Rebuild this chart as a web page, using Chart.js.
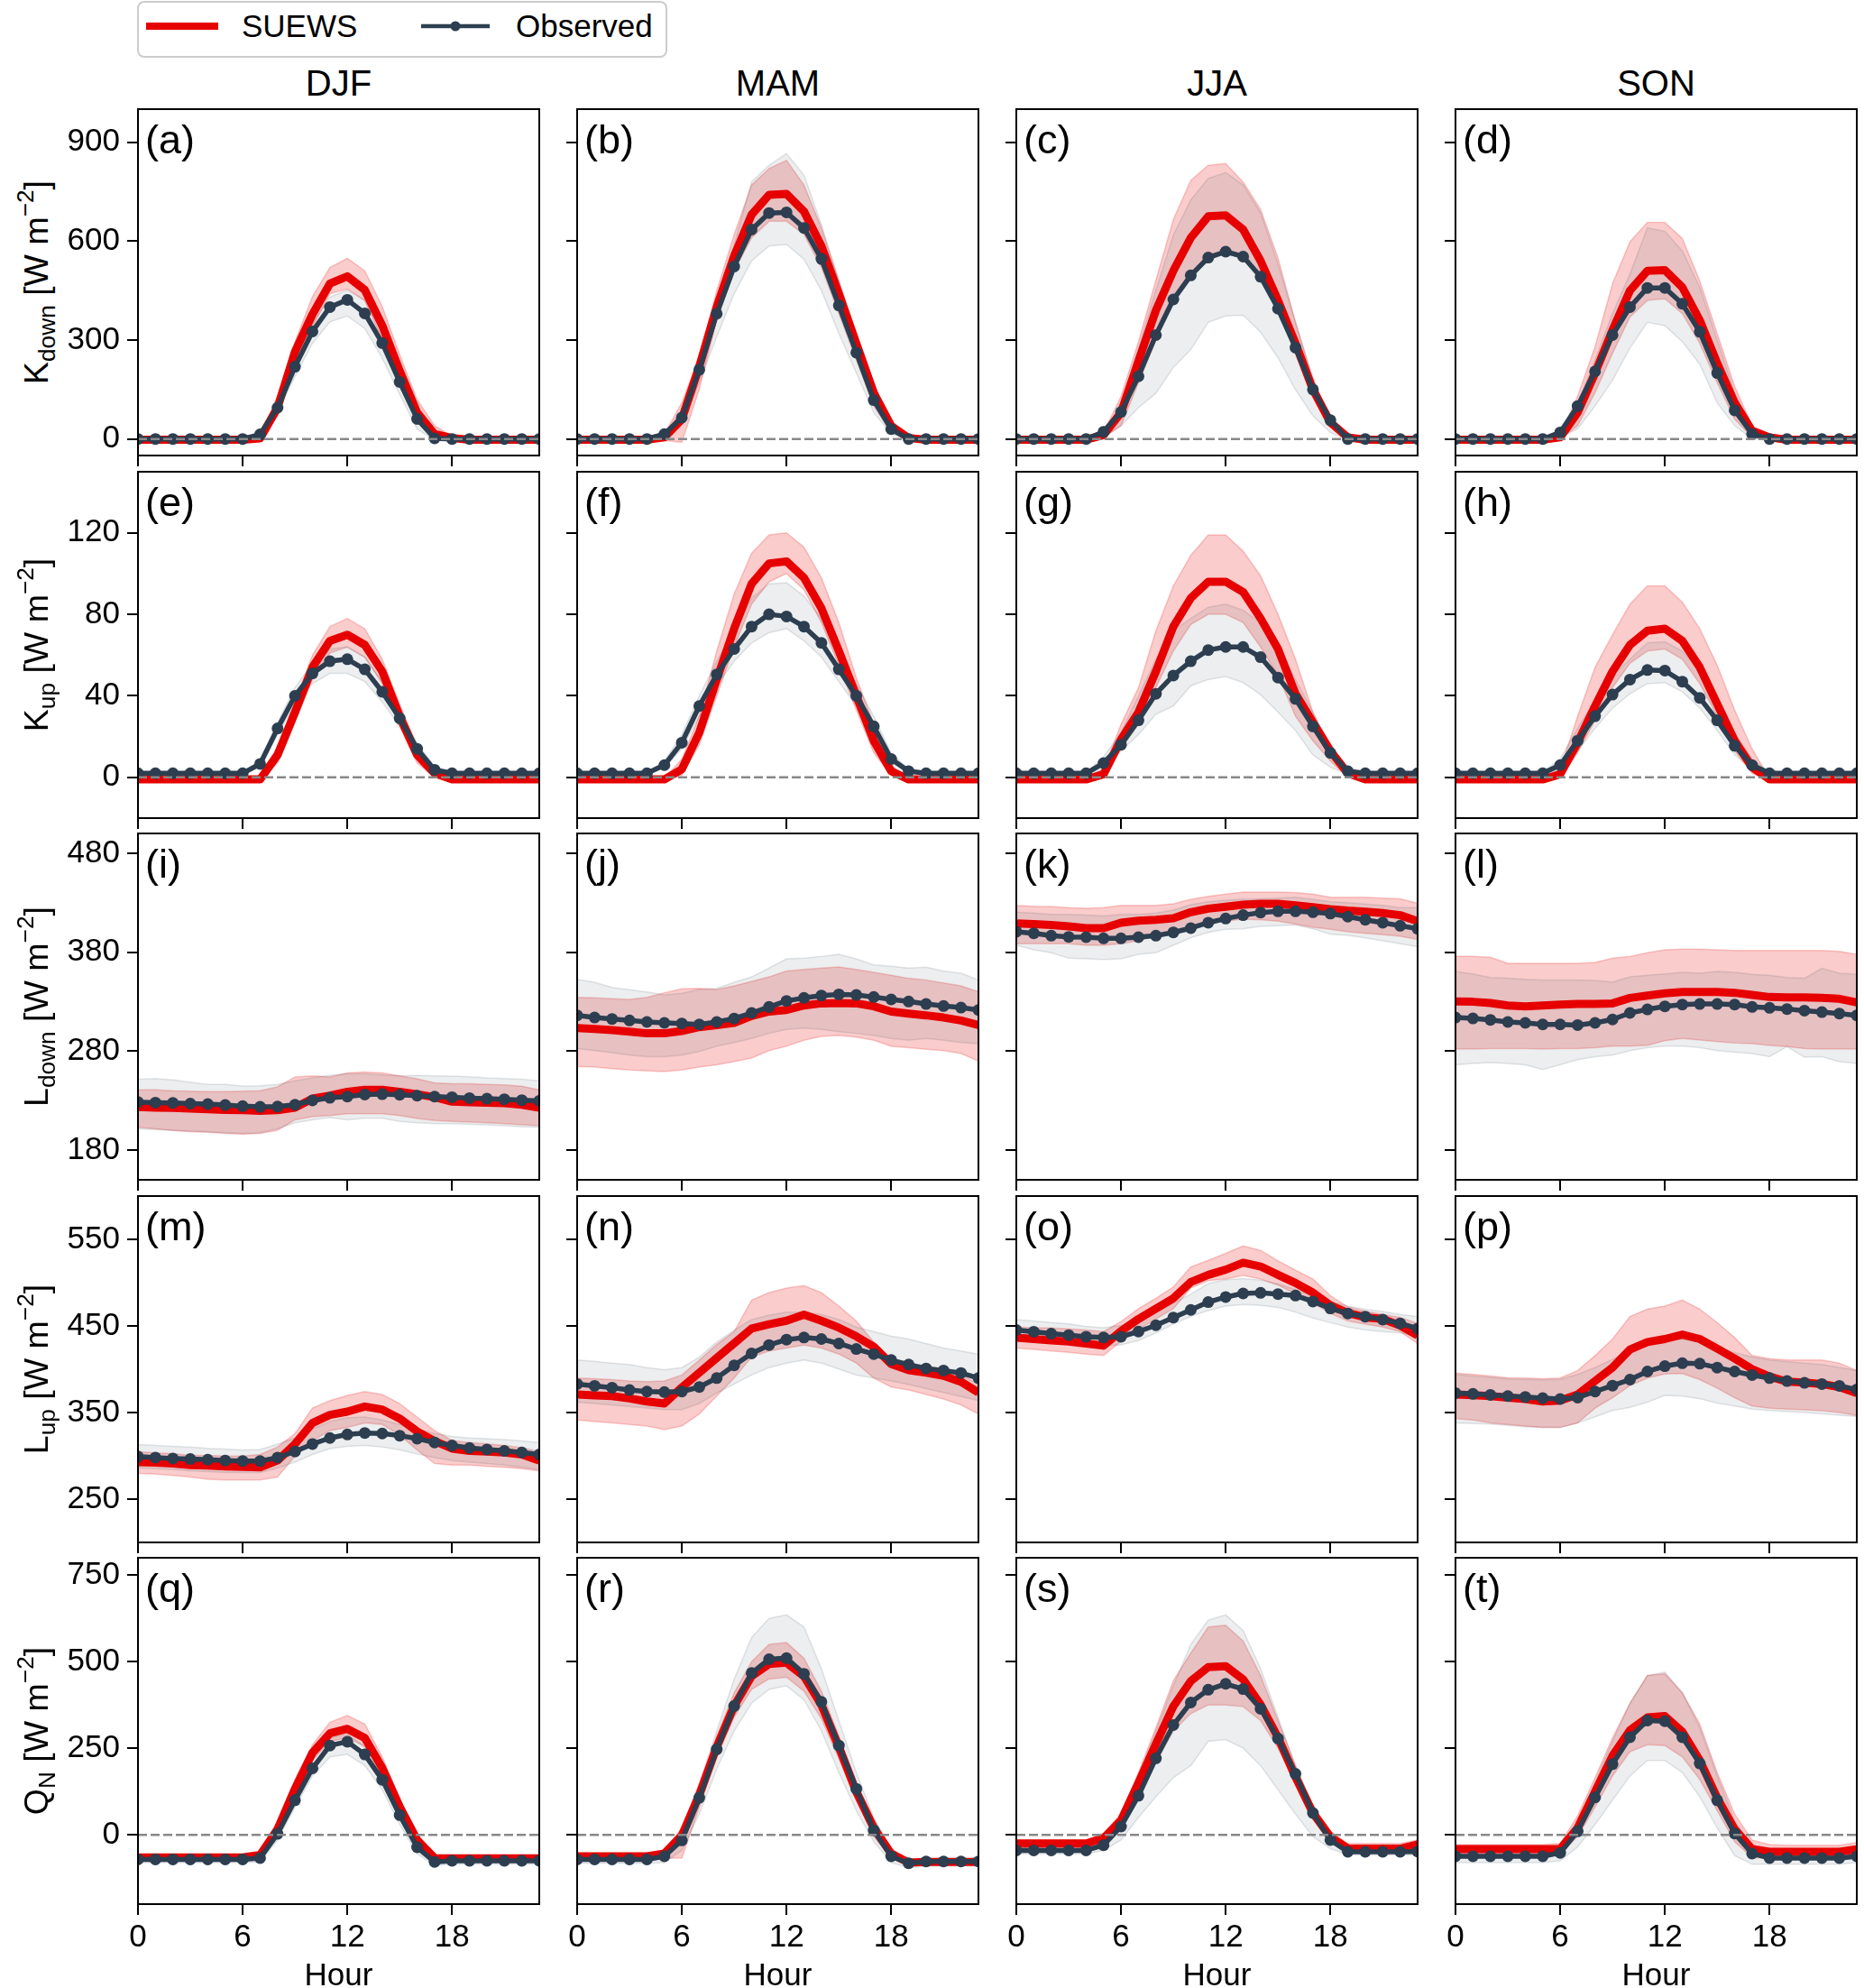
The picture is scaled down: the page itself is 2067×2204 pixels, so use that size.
<!DOCTYPE html>
<html>
<head>
<meta charset="utf-8">
<script src="https://cdn.jsdelivr.net/npm/chart.js"></script>
<style>
html,body{margin:0;padding:0;background:#fff;}
body{width:2067px;height:2204px;overflow:hidden;position:relative;font-family:"Liberation Sans",Arial,sans-serif;color:#000;}
canvas{position:absolute;}
.txt{position:absolute;white-space:nowrap;line-height:1;}
.ylab{position:absolute;width:500px;height:60px;line-height:60px;text-align:center;font-size:37.5px;transform:rotate(-90deg);white-space:nowrap;}
.ylab sub{font-size:0.7em;vertical-align:-0.3em;line-height:0;}
.ylab sup{font-size:0.7em;vertical-align:0.62em;line-height:0;}
</style>
</head>
<body>
<svg style="position:absolute;left:0;top:0" width="760" height="70">
  <rect x="153" y="2" width="586" height="61" rx="7" ry="7" fill="#ffffff" stroke="#cccccc" stroke-width="2"/>
  <line x1="162" y1="29" x2="242" y2="29" stroke="#e60000" stroke-width="8"/>
  <text x="268" y="41" font-family="Liberation Sans, Arial, sans-serif" font-size="35" fill="#000">SUEWS</text>
  <line x1="467" y1="29" x2="543" y2="29" stroke="#2c3e50" stroke-width="4.5"/>
  <circle cx="505" cy="29" r="5.5" fill="#2c3e50"/>
  <text x="572" y="41" font-family="Liberation Sans, Arial, sans-serif" font-size="35" fill="#000">Observed</text>
</svg>
<script>
// ---------------- DATA ----------------
const hours = [0,1,2,3,4,5,6,7,8,9,10,11,12,13,14,15,16,17,18,19,20,21,22,23];
const seasons = ["DJF","MAM","JJA","SON"];
const panelTags = ["(a)","(b)","(c)","(d)","(e)","(f)","(g)","(h)","(i)","(j)","(k)","(l)","(m)","(n)","(o)","(p)","(q)","(r)","(s)","(t)"];
const xTicks = [0,6,12,18];
const kdownTicks = [0,300,600,900];
const kupTicks = [0,40,80,120];
const ldownTicks = [180,280,380,480];
const lupTicks = [250,350,450,550];
const qnTicks = [0,250,500,750];
const kdownRange = [-50,1000];
const kupRange = [-20,150];
const ldownRange = [150,500];
const lupRange = [200,600];
const qnRange = [-200,800];
const zeroRef = 0;

// Kdown
const kdown_djf_sim   = [-2,-2,-2,-2,-2,-2,-2,2,95,265,378,471,493,452,344,207,80,15,3,-2,-2,-2,-2,-2];
const kdown_djf_simLo = [-4,-4,-4,-4,-4,-4,-4,0,70,235,340,440,455,420,300,170,50,0,-2,-4,-4,-4,-4,-4];
const kdown_djf_simHi = [0,0,0,0,0,0,0,10,130,295,432,520,548,510,402,256,119,41,8,0,0,0,0,0];
const kdown_djf_obs   = [0,0,0,0,0,0,0,14,95,219,326,400,422,381,291,173,61,2,0,0,0,0,0,0];
const kdown_djf_obsLo = [-3,-3,-3,-3,-3,-3,-3,5,80,190,290,355,373,335,245,135,30,-3,-3,-3,-3,-3,-3,-3];
const kdown_djf_obsHi = [3,3,3,3,3,3,3,18,110,245,350,430,452,420,330,200,80,10,3,3,3,3,3,3];

const kdown_mam_sim   = [-2,-2,-2,-2,-2,5,60,220,400,555,680,740,743,690,585,440,290,140,40,3,-2,-2,-2,-2];
const kdown_mam_simLo = [-4,-4,-4,-4,-4,-5,-10,150,360,510,610,660,660,620,520,380,240,100,20,0,-4,-4,-4,-4];
const kdown_mam_simHi = [0,0,0,0,0,15,110,250,450,620,770,820,845,770,640,480,320,170,50,5,0,0,0,0];
const kdown_mam_obs   = [0,0,0,0,0,15,65,210,380,523,635,685,687,640,546,405,262,118,30,0,0,0,0,0];
const kdown_mam_obsLo = [-3,-3,-3,-3,-3,8,45,170,310,440,540,585,590,545,450,320,200,80,15,-3,-3,-3,-3,-3];
const kdown_mam_obsHi = [3,3,3,3,3,20,85,240,420,590,780,830,865,800,650,480,310,150,40,3,3,3,3,3];

const kdown_jja_sim   = [-2,-2,-2,-2,-2,12,80,236,390,510,610,675,678,635,540,420,290,150,50,5,-2,-2,-2,-2];
const kdown_jja_simLo = [-4,-4,-4,-4,-4,5,40,170,300,420,500,560,570,555,490,390,270,140,45,0,-4,-4,-4,-4];
const kdown_jja_simHi = [0,0,0,0,0,20,129,295,481,666,784,830,835,779,696,549,354,178,60,5,0,0,0,0];
const kdown_jja_obs   = [0,0,0,0,0,22,82,190,315,423,496,550,568,553,492,395,277,150,57,0,0,0,0,0];
const kdown_jja_obsLo = [-3,-3,-3,-3,-3,5,40,95,139,217,271,354,373,375,324,246,149,70,20,-3,-3,-3,-3,-3];
const kdown_jja_obsHi = [3,3,3,3,3,25,100,275,451,618,725,790,808,770,686,530,354,188,60,3,3,3,3,3];

const kdown_son_sim   = [-2,-2,-2,-2,-2,-2,5,80,200,330,450,510,512,460,360,230,110,25,5,-2,-2,-2,-2,-2];
const kdown_son_simLo = [-4,-4,-4,-4,-4,-4,0,40,140,260,370,420,425,380,290,170,60,5,0,-4,-4,-4,-4,-4];
const kdown_son_simHi = [0,0,0,0,0,0,10,130,280,471,598,657,657,608,480,320,160,40,5,0,0,0,0,0];
const kdown_son_obs   = [0,0,0,0,0,0,20,100,205,315,400,458,458,410,325,200,87,15,0,0,0,0,0,0];
const kdown_son_obsLo = [-3,-3,-3,-3,-3,-3,5,31,100,178,276,354,344,295,227,109,41,0,-3,-3,-3,-3,-3,-3];
const kdown_son_obsHi = [3,3,3,3,3,3,25,110,240,380,500,640,630,570,460,300,140,25,3,3,3,3,3,3];

// Kup
const kup_djf_sim   = [-1,-1,-1,-1,-1,-1,-1,-1,11,32,54,67,70,65,52,30,11,2,-1,-1,-1,-1,-1,-1];
const kup_djf_simLo = [-1.5,-1.5,-1.5,-1.5,-1.5,-1.5,-1.5,-1.5,7,27,48,61,64,59,46,25,7,0,-1.5,-1.5,-1.5,-1.5,-1.5,-1.5];
const kup_djf_simHi = [-0.5,-0.5,-0.5,-0.5,-0.5,-0.5,-0.5,0.5,15,37,60,74,78,73,58,36,15,4,-0.5,-0.5,-0.5,-0.5,-0.5,-0.5];
const kup_djf_obs   = [2,2,2,2,2,2,2,6.6,24,40,51,57,58,53,42,29,14,3.7,2,2,2,2,2,2];
const kup_djf_obsLo = [1.5,1.5,1.5,1.5,1.5,1.5,1.5,5,21,36,46,51,51,47,37,25,11,3,1.5,1.5,1.5,1.5,1.5,1.5];
const kup_djf_obsHi = [2.5,2.5,2.5,2.5,2.5,2.5,2.5,8.5,27,44,56,63,64,59,47,33,17,5,2.5,2.5,2.5,2.5,2.5,2.5];

const kup_mam_sim   = [-1,-1,-1,-1,-1,-1,4,22,48,73,95,105,106,98,83,62,40,18,3,-1,-1,-1,-1,-1];
const kup_mam_simLo = [-1.5,-1.5,-1.5,-1.5,-1.5,-1.5,1,16,40,64,85,96,100,92,76,55,33,12,1,-1.5,-1.5,-1.5,-1.5,-1.5];
const kup_mam_simHi = [-0.5,-0.5,-0.5,-0.5,-0.5,-0.5,9,30,62,90,110,119,120,113,98,76,49,26,6,-0.5,-0.5,-0.5,-0.5,-0.5];
const kup_mam_obs   = [2,2,2,2,2,6,17,35,50.5,63,74,80,79,74,66,53,40,25,9,3,2,2,2,2];
const kup_mam_obsLo = [1.5,1.5,1.5,1.5,1.5,5,14,30,45,57,66,71,73,67,59,47,35,20,7,2,1.5,1.5,1.5,1.5];
const kup_mam_obsHi = [2.5,2.5,2.5,2.5,2.5,8,21,40,57,72,88,95,95.5,89,78,62,46,30,12,4,2.5,2.5,2.5,2.5];

const kup_jja_sim   = [-1,-1,-1,-1,-1,1.5,18.5,32,52,74,88,96,96,91,78,63,41,27,13,2,-1,-1,-1,-1];
const kup_jja_simLo = [-1.5,-1.5,-1.5,-1.5,-1.5,0,14,26,44,62,75,80,80,76,64,50,30,18,8,0,-1.5,-1.5,-1.5,-1.5];
const kup_jja_simHi = [-0.5,-0.5,-0.5,-0.5,-0.5,4,26,44,72,94,109,119,119,111,99,80,58,32,12.5,3,-0.5,-0.5,-0.5,-0.5];
const kup_jja_obs   = [2,2,2,2,2,7,16,28,41,50,57,62.5,64,64,59,49,38.5,25,12,3,2,2,2,2];
const kup_jja_obsLo = [1.5,1.5,1.5,1.5,1.5,4,13,21,31,35,45,48,49.5,46.5,40.6,32,23,11,5,1.5,1.5,1.5,1.5,1.5];
const kup_jja_obsHi = [2.5,2.5,2.5,2.5,2.5,10,22,40,58,72,78,83.5,85,82,76,64,48,32,16,4,2.5,2.5,2.5,2.5];

const kup_son_sim   = [-1,-1,-1,-1,-1,-1,1.5,17,35,52,65,72,73,67,54,36,18,5,-1,-1,-1,-1,-1,-1];
const kup_son_simLo = [-1.5,-1.5,-1.5,-1.5,-1.5,-1.5,0,12,28,44,56,62,63,58,46,30,13,2,-1.5,-1.5,-1.5,-1.5,-1.5,-1.5];
const kup_son_simHi = [-0.5,-0.5,-0.5,-0.5,-0.5,-0.5,4,30,54,70,85,94,94,86,73,55,33,14,-0.5,-0.5,-0.5,-0.5,-0.5,-0.5];
const kup_son_obs   = [2,2,2,2,2,2,6,18,30,40.6,48,52.7,52.4,47,39,28,15.5,6,2,2,2,2,2,2];
const kup_son_obsLo = [1.5,1.5,1.5,1.5,1.5,1.5,4,13,24,34,41,46,46.5,42,34,23,11,4,1.5,1.5,1.5,1.5,1.5,1.5];
const kup_son_obsHi = [2.5,2.5,2.5,2.5,2.5,2.5,9,24,38,50,58,66,66.5,62,52,38,22,9,2.5,2.5,2.5,2.5,2.5,2.5];

// Ldown
const ldown_djf_sim   = [223.5,223,222.6,222,221.3,220.7,220.4,219.8,220.4,222.9,232,235,239,241,241,239,236.5,233.5,229,228.3,228,227.4,225.8,222.9];
const ldown_djf_simLo = [203,201.5,200,198.5,198,197,196,197,200,210.7,213.7,215,216.8,216.8,216.8,215,212,210,209,208.3,207.7,206.7,205.5,204.6];
const ldown_djf_simHi = [241,241,240,239.5,239,239,239.5,240,244,254,255,254,258,259,258,255,252,248,247,247,246.5,246,244.5,241];
const ldown_djf_obs   = [228.6,228,227.7,227,226.5,225.6,224.4,223.8,224,225.9,230.2,232.9,234.1,236.2,236.5,235.9,235,234.1,233.5,232.6,232,231.4,230.5,229.8];
const ldown_djf_obsLo = [201.6,200.8,200,199.4,198.5,197.6,197,197.6,201.6,207.7,210.7,212.8,210.7,212.2,212.2,209,207.7,206.7,206.7,206,205.5,204.6,203.6,203];
const ldown_djf_obsHi = [251.7,252.2,251,248.7,246.3,246.3,244.7,245,246.3,250,253,255.7,257,257,256,255,255.5,255,254.8,254.2,253,252.2,251.7,250];

const ldown_mam_sim   = [303.4,302.5,301.3,299.8,298,298,300.4,304.3,306.4,308.6,315.6,320,321.6,326.2,328.3,328.6,328.3,325.3,320,318,316.2,314,311,306.4];
const ldown_mam_simLo = [264.5,263.9,262.4,261,260,259.3,260.9,264,266.3,269.4,273,280.6,285,291,295,295.8,294.3,291,285,283.6,282,280.6,277.6,270];
const ldown_mam_simHi = [334.4,333.8,332.9,332.3,334.4,339,343,343.5,342.3,346,350.5,355,361,362.7,364,365,362.7,359.6,356.6,353.6,352,349,346,340];
const ldown_mam_obs   = [316.2,314,312.5,311,309.5,308.6,308,307,309.5,313,318.6,324.7,330.8,333.8,336.2,337.4,336.8,334.7,332.3,330.2,327.7,325.6,324,321.6];
const ldown_mam_obsLo = [282.7,280.6,278.5,276,274.5,274.5,276,279.7,285,288.8,292.8,298,301.9,303.4,301.9,299.8,298,295.8,292.8,291,292.8,291,288.8,287.6];
const ldown_mam_obsHi = [352.6,349.6,344.4,342,339.9,336.8,338.4,342.3,343.5,349.6,355,364,373.3,374,375.7,377.9,373.3,367.2,365.7,364,364.8,361,358.7,352];

const ldown_jja_sim   = [409.2,408.3,407.4,406.1,404.3,404.3,409.8,411.9,412.8,414.3,420.4,424,425.9,428,428.9,428.9,427.4,425.6,423.5,422,421,419.5,417.4,411.3];
const ldown_jja_simLo = [388.5,388.5,388.5,388.5,387,387,388.5,391.5,396,399,406.7,410.4,411.3,413.4,412.8,411.3,408.3,405.2,403.1,400.7,399,397.6,396,393];
const ldown_jja_simHi = [427.4,426.5,426.2,425,424.4,425,427.4,427.4,427.4,428.9,433.5,436.5,438.7,440.8,440.8,440.8,440.2,438.7,435.6,435.6,435.6,434.7,434,429.5];
const ldown_jja_obs   = [400.7,399.1,396.7,395.5,395.2,394,394,395.2,396.7,400,404.3,409.8,414,417.4,420,421.3,421.3,420.4,419,415.9,412.8,409.8,406.7,403.7];
const ldown_jja_obsLo = [387,382.4,379.4,373.9,373.3,372.7,373.3,377.9,379.4,387,394.6,400,403.1,403.7,406.1,406.7,407.4,403.7,398.2,397,394.6,391.5,388.5,385.5];
const ldown_jja_obsHi = [420.4,419.5,418.3,418.3,417.4,416.5,418.3,418.3,419.5,422.6,428,431,432.6,433.5,434,434.7,435.6,433.5,431,430,428.6,427.4,425,425];

const ldown_son_sim   = [330.2,329.9,328.6,326.2,325.3,326.2,327.1,327.7,327.7,328.3,333.8,336.2,338.4,339.9,339.9,339.9,339,336.8,334.7,334.4,334.4,333.8,332.9,329.3];
const ldown_son_simLo = [282.1,282.1,282.7,282.7,282.7,282.1,282.7,282.7,283.6,285.2,285.2,285.8,290.6,292.8,291.2,289.7,288.2,287.6,285.8,284.6,282.7,282.1,282.1,282.1];
const ldown_son_simHi = [375.7,375.7,374.8,368.8,368.8,368.8,368.8,368.8,369.7,373.9,375.7,379.4,382.4,383,383,382.4,381.8,381.8,381.8,381.8,381.8,381.8,380.9,377.9];
const ldown_son_obs   = [314,313.1,311.6,309.5,308.6,307,307,306.4,308.6,312,318.6,322.2,325.3,327.1,327.7,327.7,327.1,324.7,323.8,322.6,321,319.5,318,316.2];
const ldown_son_obsLo = [266.3,267.5,268.4,267.5,266.3,261.5,266.3,271.5,274.5,276,280.6,283.6,285.2,285.2,283.6,280.6,279,277.6,274.5,284.6,273.9,274.5,269.4,267.5];
const ldown_son_obsHi = [360.5,358.1,354.5,353.6,352.6,352,352,352,351.4,349.9,355,356.6,358.1,359.6,358.7,360.5,359.6,357.5,356.6,354.5,353.6,363.7,358.7,357.5];

// Lup
const lup_djf_sim   = [292.8,292.1,291.1,289.4,288.7,287.7,287.2,286.6,294.6,313.6,337.9,347.2,351,356.9,353.5,343,328.2,317.1,308.4,305.7,305,303.9,301.5,294.6];
const lup_djf_simLo = [279.7,279,277.3,275.5,272.8,272.1,272.1,272.1,275.5,299.8,317.1,329.2,332.7,337.9,336.1,324,306.7,291.1,289.4,289.4,287.7,286.6,285.2,282.5];
const lup_djf_simHi = [305,303.3,302.6,300.5,300.5,299.8,299.8,301.5,310.2,325.8,355.2,363.9,369.7,374.2,370.8,360.4,344.8,329.2,317.8,315.4,313.7,311.9,309.5,305];
const lup_djf_obs   = [299.1,298,297,296.3,295.6,294.6,293.9,293.9,298,305,313.6,320.6,324.7,326.4,325.8,323.3,319.9,315.4,311.9,309.1,307.4,305.7,303.9,301.5];
const lup_djf_obsLo = [285.9,285.2,284.2,282.5,281.8,280.7,280.7,280.7,285.9,292.8,301.5,308.4,310.9,311.9,310.2,306.7,302.2,298,294.6,292.8,291.1,289.4,286.6,284.2];
const lup_djf_obsHi = [313,312,311,310.2,308.5,307.8,306.7,307.4,313.6,320.6,331,339.6,344.1,344.8,341.3,336.1,331,325.8,322.3,320.6,319.9,318.8,317.1,315.4];

const lup_mam_sim   = [370.8,369.7,369,366.3,362.8,360.4,379,396,413,430,447,452,456,463,456,448,438,426,406,399,396,392.5,385.5,373];
const lup_mam_simLo = [341.3,339.6,337.9,336.1,334.4,330.3,334.4,348.3,369,389.8,414,421,424.5,427.9,424.5,417.5,407.1,389.8,379.4,376,370.8,365.6,358.7,348.3];
const lup_mam_simHi = [389.8,389,388,386.5,385.7,386.5,393.3,410.6,428.6,443.5,479.9,488.5,493.7,496.5,488.5,473,455.7,431.4,410.6,407.1,403.7,400.2,393.3,382.9];
const lup_mam_obs   = [382.9,380.8,378.7,376,374.2,373.6,374.2,379.4,389.8,404.4,418.2,427.9,434.2,436.6,434.9,429.7,423.4,417.5,410.6,405.4,400.9,398.5,395.7,389.8];
const lup_mam_obsLo = [362.1,360.4,358.7,357,355.2,353.5,353.5,360.4,372.5,382.9,393.3,401.9,407.1,410.6,407.1,400.2,393.3,389.8,386.4,382.2,377.7,373.2,368.4,363.9];
const lup_mam_obsHi = [410.6,409,407.1,405.4,401.9,399.5,401.9,414,431.4,445.2,457.4,462.6,466,466,463.3,457.4,448.7,443.5,438.3,434.9,429.7,424.5,421,417.5];

const lup_jja_sim   = [436.6,434.9,433.2,432.1,429.7,427.2,444,458,470,482,500.7,509,515,523,518.7,509,499.6,488.5,473.7,465,460,458,450.4,439];
const lup_jja_simLo = [424.5,423,421,419.5,417.5,415.8,432,446,458,470,493.7,502.3,504.1,508.3,504.1,497.2,486.8,476.5,464.4,455.6,452.2,448.7,443.5,429.6];
const lup_jja_simHi = [448.7,448,447.6,446.5,445.2,443.5,455,470,482,495,518.1,525.8,533.8,542.5,537.3,525.2,514.5,504.2,485,472,467,463.3,459.8,452.9];
const lup_jja_obs   = [445.3,443.3,441.1,439.4,437.6,436.6,437.6,443.5,450.8,459.7,468.5,477.5,483.4,487.5,488.2,486.8,485.1,478.2,470.2,464.4,460.8,457.4,452.9,447];
const lup_jja_obsLo = [434.9,433.2,431.5,429.7,428,427.2,428,433.2,441.8,452.2,460.9,467.8,473,474.7,473.7,471.3,466,459.1,453.8,448.7,445.2,443.5,441.8,438.3];
const lup_jja_obsHi = [457.4,455.7,454,452.3,449.4,448,450.4,457.4,466,476.5,486.8,498.9,503.4,504.8,503,498.5,492,485.1,478.2,473,469.2,466.7,463.3,460.9];

const lup_son_sim   = [370.8,370,369,367.3,365.6,362.8,363.8,370.8,386.4,401.9,422.7,431.4,434.9,440,434.9,423.8,412.3,400.2,391.5,385.7,384.6,382.9,379.4,372.5];
const lup_son_simLo = [343,341.3,338,336.1,334.4,332.7,332.7,338,355,367,381,389.8,394.6,395,388,378,367,357.5,355,354,353,352,350,346.5];
const lup_son_simHi = [395.7,394,392.3,390,389.8,389,389.8,398.5,415.8,434.9,460.9,469.5,473,479.9,469.5,453.9,436.6,415.8,412.3,410.6,410.6,410.6,407.1,398.5];
const lup_son_obs   = [372.5,371.5,370.4,369,368,366.6,365.6,367.3,374.2,381.1,388,397.4,403.6,407,406.4,401.9,397.4,393.3,389.8,386.4,384.3,382.9,380.8,376.6];
const lup_son_obsLo = [337.9,337.2,336.8,335.1,333.7,332.7,332.7,337.9,345,352.4,356,362,369.7,369,366,361,357.5,354,352.4,351,350,348.5,347,345.5];
const lup_son_obsHi = [394,392.3,390.5,388.8,388.4,387.7,388.4,394,402,411.4,422.8,429.7,433.2,434.9,431.5,424.5,419.3,414,410.6,408.8,407.1,405.4,402,398.5];

// QN
const qn_djf_sim   = [-65,-65,-65,-65,-65,-65,-65,-58,16,133,237,293,306,280,193,81,-15,-67,-68,-68,-68,-68,-68,-68];
const qn_djf_simLo = [-72,-72,-72,-72,-72,-72,-72,-68,0,110,215,270,280,255,170,60,-30,-75,-76,-76,-76,-76,-76,-76];
const qn_djf_simHi = [-58,-58,-58,-58,-58,-58,-58,-50,40,160,260,325,345,320,225,105,0,-58,-60,-60,-60,-60,-60,-60];
const qn_djf_obs   = [-71,-71,-71,-71,-71,-71,-71,-67,3,100,192,258,269,232,159,57,-36,-78,-75,-75,-75,-75,-75,-75];
const qn_djf_obsLo = [-80,-80,-80,-80,-80,-80,-80,-78,-15,80,170,225,232,200,130,30,-55,-88,-85,-85,-85,-85,-85,-85];
const qn_djf_obsHi = [-62,-62,-62,-62,-62,-62,-62,-55,15,120,215,280,290,255,180,75,-20,-68,-65,-65,-65,-65,-65,-65];

const qn_mam_sim   = [-62,-62,-62,-62,-62,-54,-2,115,254,372,458,493,497,458,375,254,124,20,-54,-80,-78,-78,-78,-78];
const qn_mam_simLo = [-70,-70,-70,-70,-70,-68,-67,80,225,340,420,450,455,415,335,220,100,-5,-68,-90,-85,-85,-85,-85];
const qn_mam_simHi = [-55,-55,-55,-55,-55,-45,20,145,285,410,500,550,555,510,415,285,150,45,-40,-72,-70,-70,-70,-70];
const qn_mam_obs   = [-71,-71,-71,-71,-71,-62,-16,107,247,372,467,507,510,465,384,258,133,13,-62,-82,-77,-77,-77,-77];
const qn_mam_obsLo = [-82,-82,-82,-82,-82,-80,-45,60,190,300,380,420,430,390,300,180,70,-20,-80,-95,-90,-90,-90,-90];
const qn_mam_obsHi = [-60,-60,-60,-60,-60,-50,15,150,300,450,570,625,635,600,480,330,180,50,-45,-70,-68,-68,-68,-68];

const qn_jja_sim   = [-25,-25,-25,-25,-25,-10,42,150,262,371,444,484,487,449,376,281,167,63,-6,-39,-40,-40,-40,-28];
const qn_jja_simLo = [-38,-38,-38,-38,-38,-25,20,110,210,300,350,375,375,370,330,250,150,50,-15,-45,-45,-45,-45,-38];
const qn_jja_simHi = [-15,-15,-15,-15,-15,5,60,180,310,445,525,600,605,560,460,330,200,85,10,-25,-25,-25,-25,-15];
const qn_jja_obs   = [-45,-45,-45,-45,-45,-30,24,113,221,317,382,419,436,421,364,278,176,63,-15,-49,-49,-49,-49,-48];
const qn_jja_obsLo = [-55,-55,-55,-55,-55,-45,-15,50,110,165,200,270,275,250,200,130,60,-5,-40,-58,-58,-58,-58,-58];
const qn_jja_obsHi = [-20,-20,-20,-20,-20,0,50,170,300,430,550,620,635,590,480,340,200,80,0,-35,-35,-35,-35,-35];

const qn_son_sim   = [-41,-41,-41,-41,-41,-41,-41,20,124,228,302,339,343,298,215,107,16,-41,-49,-49,-49,-49,-49,-42];
const qn_son_simLo = [-55,-55,-55,-55,-55,-55,-55,-5,80,170,240,260,258,225,160,70,-20,-65,-70,-70,-70,-70,-70,-62];
const qn_son_simHi = [-28,-28,-28,-28,-28,-28,-25,55,165,280,380,460,465,410,320,180,60,-15,-28,-30,-30,-30,-30,-22];
const qn_son_obs   = [-62,-62,-62,-62,-62,-62,-52,10,108,204,282,330,328,282,206,100,4,-54,-67,-67,-67,-67,-67,-62];
const qn_son_obsLo = [-80,-80,-80,-80,-80,-80,-75,-35,30,100,170,215,215,180,110,20,-60,-85,-85,-85,-85,-85,-85,-80];
const qn_son_obsHi = [-45,-45,-45,-45,-45,-45,-40,40,150,270,380,460,470,410,310,170,40,-30,-50,-50,-50,-50,-50,-45];

// ---------------- TABLE BUILT FROM THE ARRAYS ----------------
const ROWS = [
  {label:'K<sub>down</sub> [W m<sup>\u22122</sup>]', range:kdownRange, ticks:kdownTicks, zero:true, panels:[
    [kdown_djf_sim,kdown_djf_simLo,kdown_djf_simHi,kdown_djf_obs,kdown_djf_obsLo,kdown_djf_obsHi],
    [kdown_mam_sim,kdown_mam_simLo,kdown_mam_simHi,kdown_mam_obs,kdown_mam_obsLo,kdown_mam_obsHi],
    [kdown_jja_sim,kdown_jja_simLo,kdown_jja_simHi,kdown_jja_obs,kdown_jja_obsLo,kdown_jja_obsHi],
    [kdown_son_sim,kdown_son_simLo,kdown_son_simHi,kdown_son_obs,kdown_son_obsLo,kdown_son_obsHi]]},
  {label:'K<sub>up</sub> [W m<sup>\u22122</sup>]', range:kupRange, ticks:kupTicks, zero:true, panels:[
    [kup_djf_sim,kup_djf_simLo,kup_djf_simHi,kup_djf_obs,kup_djf_obsLo,kup_djf_obsHi],
    [kup_mam_sim,kup_mam_simLo,kup_mam_simHi,kup_mam_obs,kup_mam_obsLo,kup_mam_obsHi],
    [kup_jja_sim,kup_jja_simLo,kup_jja_simHi,kup_jja_obs,kup_jja_obsLo,kup_jja_obsHi],
    [kup_son_sim,kup_son_simLo,kup_son_simHi,kup_son_obs,kup_son_obsLo,kup_son_obsHi]]},
  {label:'L<sub>down</sub> [W m<sup>\u22122</sup>]', range:ldownRange, ticks:ldownTicks, zero:false, panels:[
    [ldown_djf_sim,ldown_djf_simLo,ldown_djf_simHi,ldown_djf_obs,ldown_djf_obsLo,ldown_djf_obsHi],
    [ldown_mam_sim,ldown_mam_simLo,ldown_mam_simHi,ldown_mam_obs,ldown_mam_obsLo,ldown_mam_obsHi],
    [ldown_jja_sim,ldown_jja_simLo,ldown_jja_simHi,ldown_jja_obs,ldown_jja_obsLo,ldown_jja_obsHi],
    [ldown_son_sim,ldown_son_simLo,ldown_son_simHi,ldown_son_obs,ldown_son_obsLo,ldown_son_obsHi]]},
  {label:'L<sub>up</sub> [W m<sup>\u22122</sup>]', range:lupRange, ticks:lupTicks, zero:false, panels:[
    [lup_djf_sim,lup_djf_simLo,lup_djf_simHi,lup_djf_obs,lup_djf_obsLo,lup_djf_obsHi],
    [lup_mam_sim,lup_mam_simLo,lup_mam_simHi,lup_mam_obs,lup_mam_obsLo,lup_mam_obsHi],
    [lup_jja_sim,lup_jja_simLo,lup_jja_simHi,lup_jja_obs,lup_jja_obsLo,lup_jja_obsHi],
    [lup_son_sim,lup_son_simLo,lup_son_simHi,lup_son_obs,lup_son_obsLo,lup_son_obsHi]]},
  {label:'Q<sub>N</sub> [W m<sup>\u22122</sup>]', range:qnRange, ticks:qnTicks, zero:true, panels:[
    [qn_djf_sim,qn_djf_simLo,qn_djf_simHi,qn_djf_obs,qn_djf_obsLo,qn_djf_obsHi],
    [qn_mam_sim,qn_mam_simLo,qn_mam_simHi,qn_mam_obs,qn_mam_obsLo,qn_mam_obsHi],
    [qn_jja_sim,qn_jja_simLo,qn_jja_simHi,qn_jja_obs,qn_jja_obsLo,qn_jja_obsHi],
    [qn_son_sim,qn_son_simLo,qn_son_simHi,qn_son_obs,qn_son_obsLo,qn_son_obsHi]]}
];

// ---------------- LAYOUT / STYLE ----------------
const FONT = '"Liberation Sans", Arial, sans-serif';
const COL_L = [153, 640, 1127, 1614];
const ROW_T = [121, 523, 924, 1326, 1727];
const PW = 445, PH = 384;
const PT = 24, PR = 8;
const RED = '#e60000', OBS = '#2c3e50';

Chart.defaults.font.family = FONT;

const framePlugin = {
  id: 'frame',
  afterDraw(chart) {
    const {ctx, chartArea: a} = chart;
    ctx.save();
    ctx.strokeStyle = '#000';
    ctx.lineWidth = 2;
    ctx.strokeRect(a.left, a.top, a.right - a.left, a.bottom - a.top);
    ctx.restore();
  }
};

function pts(arr) { return hours.map((h, i) => ({x: h, y: arr[i]})); }

function addText(html, cls, style) {
  const d = document.createElement('div');
  d.className = cls;
  d.innerHTML = html;
  Object.assign(d.style, style);
  document.body.appendChild(d);
  return d;
}

// column titles
seasons.forEach((s, c) => {
  const fs = 40;
  addText(s, 'txt', {left: (COL_L[c]) + 'px', width: PW + 'px', textAlign: 'center',
    top: (105.7 - 0.8465 * fs) + 'px', fontSize: fs + 'px'});
});

ROWS.forEach((row, r) => {
  const cy = ROW_T[r] + PH / 2;
  addText(row.label, 'ylab', {left: (40 - 250) + 'px', top: (cy - 30) + 'px'});

  row.panels.forEach((p, c) => {
    const [sim, simLo, simHi, obs, obsLo, obsHi] = p;
    const isBottom = r === ROWS.length - 1;
    const yW = c === 0 ? 152 : 20;
    const xH = isBottom ? 101 : 16;
    const W = yW + PW + PR, H = PT + PH + xH;
    const cv = document.createElement('canvas');
    cv.width = W; cv.height = H;
    cv.style.width = W + 'px'; cv.style.height = H + 'px';
    cv.style.left = (COL_L[c] - yW) + 'px';
    cv.style.top = (ROW_T[r] - PT) + 'px';
    document.body.appendChild(cv);

    const datasets = [
      {label: 'SUEWS low', data: pts(simLo), borderColor: 'rgba(230,0,0,0.2)', borderWidth: 1.5, pointRadius: 0, fill: false, order: 6, clip: 0},
      {label: 'SUEWS high', data: pts(simHi), borderColor: 'rgba(230,0,0,0.2)', borderWidth: 1.5, pointRadius: 0, fill: '-1', backgroundColor: 'rgba(230,0,0,0.2)', order: 5, clip: 0},
      {label: 'Observed low', data: pts(obsLo), borderColor: 'rgba(44,62,80,0.13)', borderWidth: 1.5, pointRadius: 0, fill: false, order: 4, clip: 0},
      {label: 'Observed high', data: pts(obsHi), borderColor: 'rgba(44,62,80,0.13)', borderWidth: 1.5, pointRadius: 0, fill: '-1', backgroundColor: 'rgba(44,62,80,0.09)', order: 3, clip: 0},
      {label: 'SUEWS', data: pts(sim), borderColor: RED, borderWidth: 9, pointRadius: 0, fill: false, order: 2, clip: 0, borderJoinStyle: 'round'},
      {label: 'Observed', data: pts(obs), borderColor: OBS, borderWidth: 5.5, pointRadius: 6.5, pointHoverRadius: 6.5, pointBackgroundColor: OBS, pointBorderWidth: 0, fill: false, order: 1, clip: 0, borderJoinStyle: 'round'}
    ];
    if (row.zero) {
      datasets.push({label: 'zero', data: [{x: hours[0], y: zeroRef}, {x: hours[hours.length - 1], y: zeroRef}],
        borderColor: '#888888', borderWidth: 2.5, borderDash: [10, 4], pointRadius: 0, fill: false, order: 0, clip: 0});
    }

    const gridOpts = {display: true, drawOnChartArea: false, drawTicks: true, tickLength: 12,
      color: '#000', tickColor: '#000', lineWidth: 2, tickWidth: 2};

    new Chart(cv, {
      type: 'line',
      data: {datasets},
      plugins: [framePlugin],
      options: {
        responsive: false, animation: false, events: [],
        elements: {line: {tension: 0}},
        layout: {padding: {top: PT, right: PR, left: 0, bottom: 0}},
        plugins: {legend: {display: false}, tooltip: {enabled: false}, title: {display: false}},
        scales: {
          x: {
            type: 'linear', min: hours[0], max: hours[hours.length - 1],
            afterBuildTicks: s => { s.ticks = xTicks.map(v => ({value: v})); },
            afterFit: s => { s.height = xH; s.paddingLeft = 0; s.paddingRight = 0; },
            grid: gridOpts, border: {display: false},
            ticks: {display: isBottom, autoSkip: false, maxRotation: 0, color: '#000', padding: 4,
              font: {family: FONT, size: 35}},
            title: {display: isBottom, text: 'Hour', color: '#000', padding: 0, font: {family: FONT, size: 35}}
          },
          y: {
            type: 'linear', min: row.range[0], max: row.range[1],
            afterBuildTicks: s => { s.ticks = row.ticks.map(v => ({value: v})); },
            afterFit: s => { s.width = yW; s.paddingTop = 0; s.paddingBottom = 0; },
            grid: gridOpts, border: {display: false},
            ticks: {display: c === 0, autoSkip: false, color: '#000', padding: 8,
              font: {family: FONT, size: 35}}
          }
        }
      }
    });

    const fs = 45;
    const tag = panelTags[r * 4 + c];
    addText(tag, 'txt', {left: (COL_L[c] + 8) + 'px', top: (ROW_T[r] + 49 - 0.8465 * fs) + 'px', fontSize: fs + 'px'});
  });
});
</script>
</body>
</html>
